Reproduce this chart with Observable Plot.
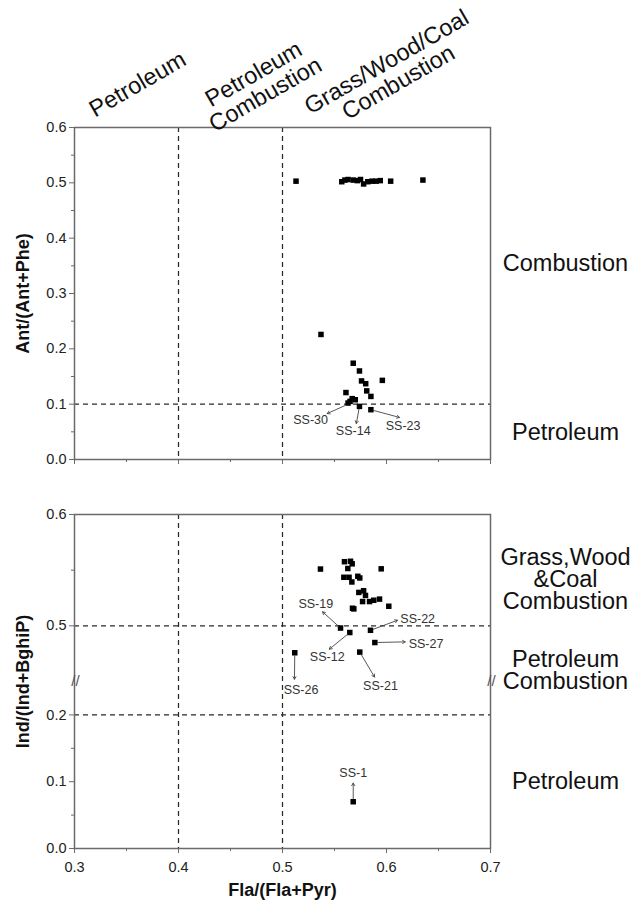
<!DOCTYPE html>
<html><head><meta charset="utf-8">
<script src="https://cdn.jsdelivr.net/npm/d3@7"></script>
<script src="https://cdn.jsdelivr.net/npm/@observablehq/plot@0.6"></script>
<style>
body{margin:0;background:#fff;}
#wrap{position:relative;width:636px;height:900px;background:#fff;}
#wrap svg{position:absolute;left:0;}
</style></head><body><div id="wrap"></div>
<script>
// ---------- Top panel: Fla/(Fla+Pyr) vs Ant/(Ant+Phe) ----------
const topFla = [0.513,0.557,0.560,0.563,0.568,0.572,0.575,0.578,0.582,0.586,0.590,0.594,0.604,0.635,
                0.537,0.568,0.574,0.576,0.580,0.596,0.581,0.585,0.561,0.567,0.570,0.565,0.563,0.574,0.585];
const topAnt = [0.503,0.502,0.505,0.506,0.505,0.504,0.506,0.498,0.502,0.503,0.503,0.504,0.503,0.505,
                0.226,0.174,0.160,0.142,0.137,0.143,0.124,0.114,0.121,0.110,0.108,0.105,0.102,0.096,0.090];
const topNotes   = ["SS-30","SS-14","SS-23"];
const topNoteFla = [0.5625,0.574,0.585];
const topNoteAnt = [0.0995,0.096,0.090];
const topTipFla  = [0.543,0.571,0.6125];
const topTipAnt  = [0.083,0.065,0.076];
const topTextFla = [0.527,0.568,0.616];
const topTextAnt = [0.0705,0.052,0.061];
const topRightLabels = ["Combustion","Petroleum"];
const topRightAnt    = [0.354,0.049];
const topRegionLabels = ["Petroleum","Petroleum\nCombustion","Grass/Wood/Coal\nCombustion"];
const topRegionFla    = [0.3606,0.4779,0.6058];
const topRegionAnt    = [0.678,0.678,0.700];
const topYTicks = [0,0.1,0.2,0.3,0.4,0.5,0.6];
const topYMinor = [0.05,0.15,0.25,0.35,0.45,0.55];

// ---------- Bottom panel: Fla/(Fla+Pyr) vs Ind/(Ind+BghiP) ----------
const botFla = [0.5365,0.5596,0.5654,0.567,0.5628,0.5949,0.559,0.564,0.5667,0.5724,0.5743,0.5734,0.578,0.5798,
                0.577,0.5837,0.5878,0.5933,0.6022,0.5673,0.5686,0.5558,0.5647,0.5846,0.5888,0.5743,0.5118,0.568];
const botInd = [0.551,0.5576,0.558,0.5557,0.5515,0.5512,0.5436,0.5436,0.5394,0.5445,0.543,0.530,0.5315,0.5273,
                0.5218,0.5218,0.523,0.524,0.5176,0.5158,0.5152,0.498,0.494,0.496,0.485,0.4764,0.4758,0.07];
const botNotes   = ["SS-19","SS-12","SS-22","SS-27","SS-21","SS-26","SS-1"];
const botNoteFla = [0.5558,0.5647,0.5846,0.5888,0.5743,0.5118,0.568];
const botNoteInd = [0.498,0.494,0.496,0.485,0.4764,0.4758,0.07];
const botTipFla  = [0.5385,0.545,0.6106,0.618,0.5885,0.5115,0.568];
const botTipInd  = [0.5126,0.479,0.505,0.4856,0.454,0.452,0.098];
const botTextFla = [0.532,0.543,0.630,0.638,0.5942,0.5178,0.568];
const botTextInd = [0.520,0.472,0.506,0.484,0.244,0.238,0.113];
const botRightLabels = ["Grass,Wood\n&Coal\nCombustion","Petroleum\nCombustion","Petroleum"];
const botRightInd    = [0.541,0.4595,0.099];
const botYTicks = [0,0.1,0.2,0.5,0.6];
const botYMinor = [0.05,0.15,0.55];
// broken axis: lower segment 0–0.25 and upper segment 0.45–0.6, each half the axis
const lowSeg = [0, 0.25];
const highSeg = [0.45, 0.6];
const breakAt = 0.45;

const xTicks = [0.3,0.4,0.5,0.6,0.7];
const xMinor = [0.35,0.45,0.55,0.65];
const regionX = [0.4,0.5];
const topCut = [0.1];
const botCuts = [0.5,0.2];

const font = "'Liberation Sans', Arial, Helvetica, sans-serif";
const fmt = d3.format(".1f");
const frameColor = "#6a6a6a";
const dashColor = "#2a2a2a";
const noteColor = "#333";
const idx = a => a.map((_, i) => i);
// broken-axis scale transform
const brokenY = v => v <= (lowSeg[1] + highSeg[0]) / 2
  ? 0.5 * (v - lowSeg[0]) / (lowSeg[1] - lowSeg[0])
  : 0.5 + 0.5 * (v - highSeg[0]) / (highSeg[1] - highSeg[0]);

const topPlot = Plot.plot({
  width: 636, height: 475,
  marginLeft: 74, marginRight: 146, marginTop: 127, marginBottom: 16,
  x: {domain: [0.3, 0.7]},
  y: {domain: [0, 0.6]},
  style: {fontFamily: font, background: "white", color: "#111", overflow: "visible"},
  marks: [
    Plot.ruleX(regionX, {stroke: dashColor, strokeWidth: 1.25, strokeDasharray: "5,4"}),
    Plot.ruleY(topCut, {stroke: dashColor, strokeWidth: 1.25, strokeDasharray: "5,4"}),
    Plot.frame({stroke: frameColor, strokeWidth: 1.5}),
    Plot.axisY(topYTicks, {tickSize: 5, tickPadding: 3, fontSize: 14.5, tickFormat: fmt, stroke: frameColor, fill: "#222"}),
    Plot.axisY(topYMinor, {tickSize: 3, tickFormat: () => "", stroke: frameColor}),
    Plot.axisX(xTicks, {tickSize: 5, tickFormat: () => "", stroke: frameColor}),
    Plot.axisX(xMinor, {tickSize: 3, tickFormat: () => "", stroke: frameColor}),
    Plot.dot(idx(topFla), {x: i => topFla[i], y: i => topAnt[i], symbol: "square", r: 3.1, fill: "#000"}),
    Plot.arrow(idx(topNotes), {x1: i => topNoteFla[i], y1: i => topNoteAnt[i], x2: i => topTipFla[i], y2: i => topTipAnt[i],
      stroke: "#444", strokeWidth: 0.9, headLength: 5, insetStart: 3}),
    Plot.text(idx(topNotes), {x: i => topTextFla[i], y: i => topTextAnt[i], text: i => topNotes[i], fontSize: 12.5, fill: noteColor}),
    Plot.text(idx(topRightLabels), {x: () => 0.7, y: i => topRightAnt[i], text: i => topRightLabels[i], dx: 75, fontSize: 23.5, fill: "#111"}),
    Plot.text(idx(topRegionLabels), {x: i => topRegionFla[i], y: i => topRegionAnt[i], text: i => topRegionLabels[i],
      rotate: -30, fontSize: 23.5, lineHeight: 1.0, fill: "#111"}),
    Plot.text(["Ant/(Ant+Phe)"], {frameAnchor: "left", textAnchor: "middle", lineAnchor: "middle", dx: -51, rotate: -90, fontSize: 18, fontWeight: "bold", fill: "#111"})
  ]
});
topPlot.style.top = "0px";

const botPlot = Plot.plot({
  width: 636, height: 425,
  marginLeft: 74, marginRight: 146, marginTop: 39, marginBottom: 52,
  x: {domain: [0.3, 0.7]},
  y: {domain: [0, 1], transform: brokenY},
  style: {fontFamily: font, background: "white", color: "#111", overflow: "visible"},
  marks: [
    Plot.ruleX(regionX, {stroke: dashColor, strokeWidth: 1.25, strokeDasharray: "5,4"}),
    Plot.ruleY(botCuts, {stroke: dashColor, strokeWidth: 1.25, strokeDasharray: "5,4"}),
    Plot.frame({stroke: frameColor, strokeWidth: 1.5}),
    Plot.axisY(botYTicks, {tickSize: 5, tickPadding: 3, fontSize: 14.5, tickFormat: fmt, stroke: frameColor, fill: "#222"}),
    Plot.axisY(botYMinor, {tickSize: 3, tickFormat: () => "", stroke: frameColor}),
    Plot.axisX(xTicks, {tickSize: 5, tickPadding: 8, fontSize: 14.5, tickFormat: fmt, stroke: frameColor, fill: "#222"}),
    Plot.axisX(xMinor, {tickSize: 3, tickFormat: () => "", stroke: frameColor}),
    Plot.text(["//", "//"], {x: [0.3, 0.7], y: [breakAt, breakAt], text: d => d, fontSize: 15, fill: "#555", dx: 1}),
    Plot.dot(idx(botFla), {x: i => botFla[i], y: i => botInd[i], symbol: "square", r: 3.1, fill: "#000"}),
    Plot.arrow(idx(botNotes), {x1: i => botNoteFla[i], y1: i => botNoteInd[i], x2: i => botTipFla[i], y2: i => botTipInd[i],
      stroke: "#444", strokeWidth: 0.9, headLength: 5, insetStart: 3}),
    Plot.text(idx(botNotes), {x: i => botTextFla[i], y: i => botTextInd[i], text: i => botNotes[i], fontSize: 12.5, fill: noteColor}),
    Plot.text(idx(botRightLabels), {x: () => 0.7, y: i => botRightInd[i], text: i => botRightLabels[i], dx: 75, fontSize: 23.5, lineHeight: 0.92, fill: "#111"}),
    Plot.text(["Ind/(Ind+BghiP)"], {frameAnchor: "left", textAnchor: "middle", lineAnchor: "middle", dx: -51, rotate: -90, fontSize: 18, fontWeight: "bold", fill: "#111"}),
    Plot.text(["Fla/(Fla+Pyr)"], {frameAnchor: "bottom", textAnchor: "middle", lineAnchor: "middle", dy: 42, fontSize: 18, fontWeight: "bold", fill: "#111"})
  ]
});
botPlot.style.top = "475px";

const wrap = document.getElementById("wrap");
wrap.appendChild(topPlot);
wrap.appendChild(botPlot);
</script>
</body></html>
